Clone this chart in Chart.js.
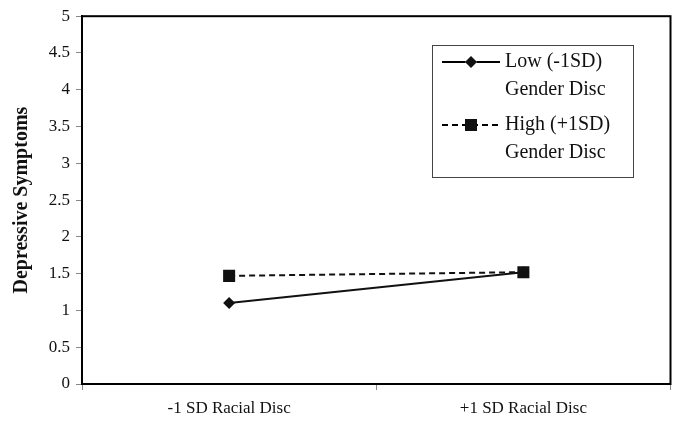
<!DOCTYPE html>
<html>
<head>
<meta charset="utf-8">
<script src="https://cdn.jsdelivr.net/npm/chart.js@4.4.0/dist/chart.umd.min.js"></script>
<style>
  html, body { margin: 0; padding: 0; background: #fff; }
  #wrap { width: 679px; height: 422px; }
</style>
</head>
<body>
<div id="wrap"><canvas id="grafik" width="679" height="422"></canvas></div>
<script>
var kategoriler = ["-1 SD Racial Disc", "+1 SD Racial Disc"];
var dusukDegerler = [1.1, 1.52];
var yuksekDegerler = [1.47, 1.52];
var dusukEtiket = ["Low (-1SD)", "Gender Disc"];
var yuksekEtiket = ["High (+1SD)", "Gender Disc"];
var yEksenBasligi = "Depressive Symptoms";

var yaziTipi = "'Liberation Serif', 'Times New Roman', serif";

/* cerceve ve lejant */
var cercevePlugin = {
  id: "cerceve",
  afterDraw: function (chart) {
    var ctx = chart.ctx;
    var a = chart.chartArea;
    ctx.save();
    ctx.strokeStyle = "#000";
    ctx.lineWidth = 2;
    ctx.strokeRect(a.left, a.top, a.right - a.left, a.bottom - a.top);

    // lejant kutusu
    var lx = 432, ly = 45, lw = 201, lh = 132;
    ctx.fillStyle = "#fff";
    ctx.fillRect(lx, ly, lw, lh);
    ctx.lineWidth = 1;
    ctx.strokeStyle = "#444";
    ctx.strokeRect(lx + 0.5, ly + 0.5, lw, lh);

    var satirlar = [
      { y: 62, etiket: dusukEtiket, ds: chart.data.datasets[0] },
      { y: 125, etiket: yuksekEtiket, ds: chart.data.datasets[1] }
    ];
    ctx.font = "20px " + yaziTipi;
    ctx.textBaseline = "middle";
    for (var i = 0; i < satirlar.length; i++) {
      var s = satirlar[i];
      ctx.strokeStyle = "#000";
      ctx.lineWidth = 2;
      ctx.setLineDash(s.ds.borderDash || []);
      ctx.beginPath();
      ctx.moveTo(442, s.y);
      ctx.lineTo(500, s.y);
      ctx.stroke();
      ctx.setLineDash([]);
      Chart.helpers.drawPoint(ctx, {
        pointStyle: s.ds.pointStyle,
        radius: s.ds.pointRadius,
        borderWidth: 0,
        rotation: 0
      }, 471, s.y);
      ctx.fillStyle = "#111";
      ctx.fill();
      ctx.fillStyle = "#111";
      ctx.textAlign = "left";
      ctx.fillText(s.etiket[0], 505, s.y);
      ctx.fillText(s.etiket[1], 505, s.y + 28);
    }
    ctx.restore();
  }
};

var ctx = document.getElementById("grafik");
var grafik = new Chart(ctx, {
  type: "line",
  data: {
    labels: kategoriler,
    datasets: [{
      label: dusukEtiket.join(" "),
      data: dusukDegerler,
      order: 1,
      borderColor: "#111",
      backgroundColor: "#111",
      borderWidth: 2,
      pointStyle: "rectRot",
      pointRadius: 6,
      pointBorderWidth: 0,
      fill: false,
      tension: 0
    }, {
      label: yuksekEtiket.join(" "),
      data: yuksekDegerler,
      order: 0,
      borderColor: "#111",
      backgroundColor: "#111",
      borderWidth: 2,
      borderDash: [6, 4],
      pointStyle: "rect",
      pointRadius: 8.5,
      pointBorderWidth: 0,
      fill: false,
      tension: 0
    }]
  },
  options: {
    responsive: false,
    animation: false,
    layout: { padding: { top: 6, right: 7, left: 0, bottom: 0 } },
    plugins: {
      legend: { display: false },
      tooltip: { enabled: false }
    },
    scales: {
      x: {
        offset: true,
        grid: {
          offset: true,
          drawOnChartArea: false,
          drawTicks: true,
          tickLength: 6,
          color: "#888",
          lineWidth: 1
        },
        border: { color: "#000", width: 2 },
        ticks: {
          color: "#111",
          padding: 8,
          font: { family: yaziTipi, size: 17 }
        },
        afterFit: function (s) { s.height = 38; }
      },
      y: {
        min: 0,
        max: 5,
        grid: {
          drawOnChartArea: false,
          drawTicks: true,
          tickLength: 6,
          color: "#888"
        },
        border: { color: "#000", width: 2 },
        ticks: {
          stepSize: 0.5,
          color: "#111",
          padding: 6,
          font: { family: yaziTipi, size: 17 },
          callback: function (v) { return String(v); }
        },
        title: {
          display: true,
          text: yEksenBasligi,
          color: "#111",
          padding: { top: 10, bottom: 0 },
          font: { family: yaziTipi, size: 20, weight: "bold" }
        },
        afterFit: function (s) { s.width = 82; }
      }
    }
  },
  plugins: [cercevePlugin]
});
</script>
</body>
</html>
